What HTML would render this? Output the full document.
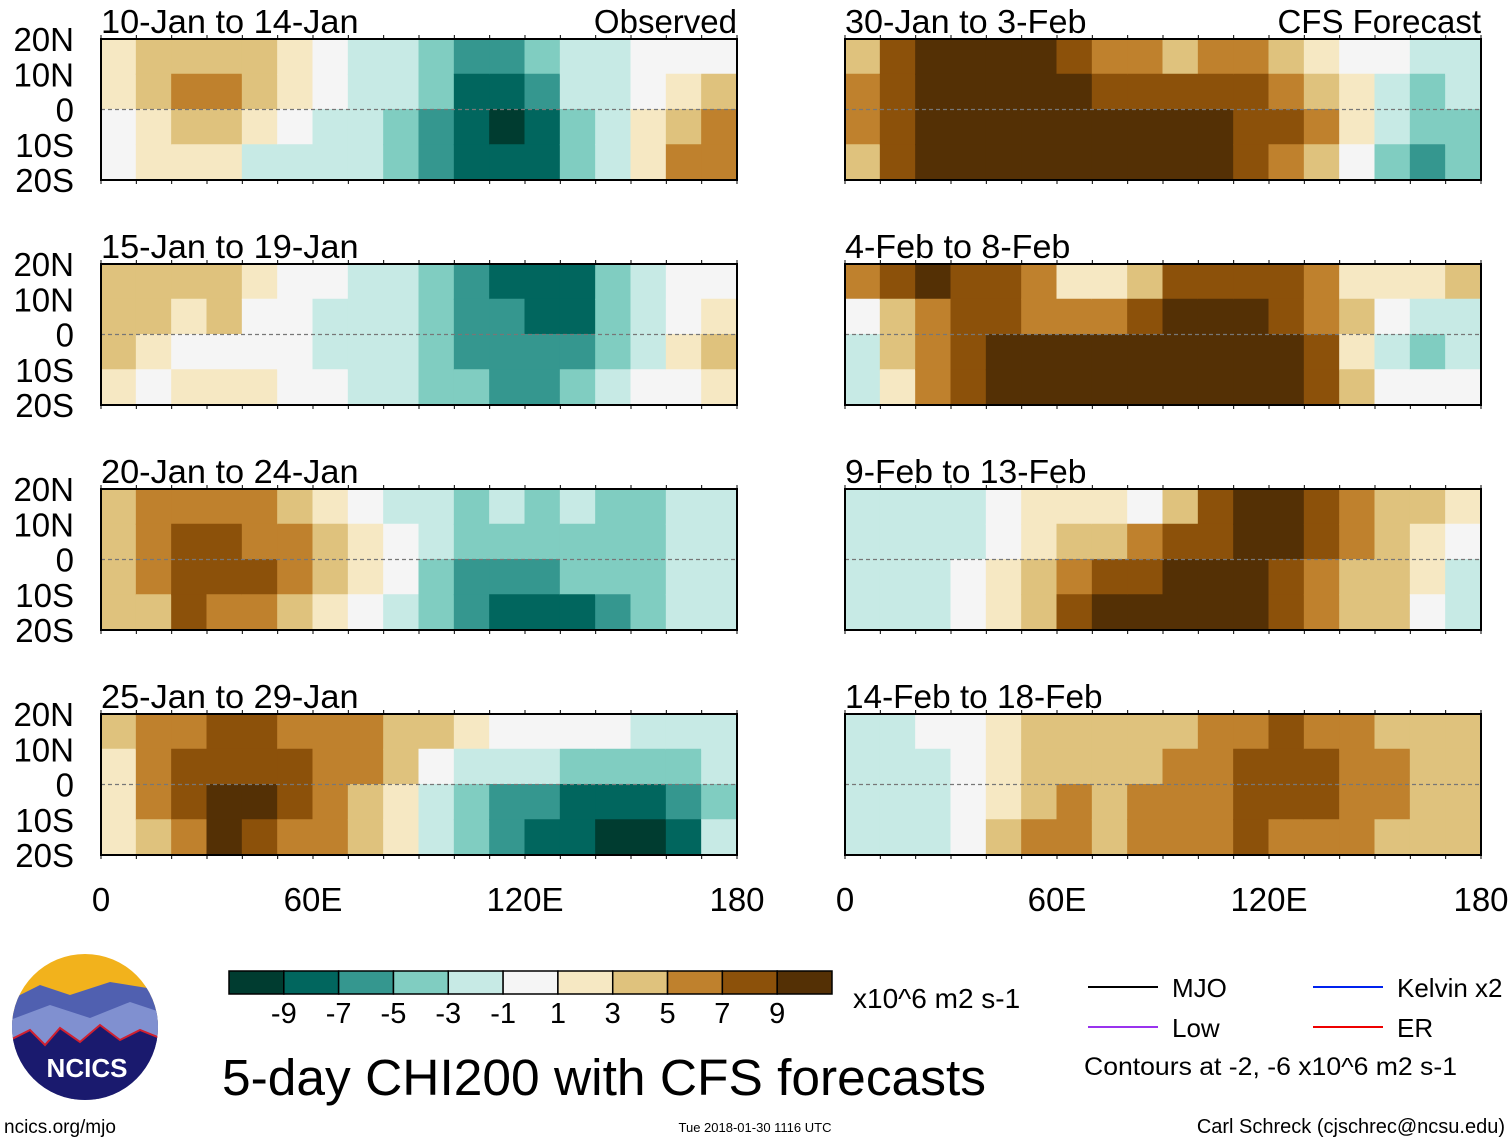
<!DOCTYPE html>
<html><head><meta charset="utf-8"><style>
body{margin:0;background:#fff}
svg{display:block;font-family:"Liberation Sans",sans-serif}
</style></head><body>
<svg id="chart" width="1510" height="1142" viewBox="0 0 1510 1142">
<g id="panels"></g>
<g id="legend"></g>
</svg>
<script>
const lonTicks=["0","60E","120E","180"];
const latTicks=["20N","10N","0","10S","20S"];
const panelTitles=["10-Jan to 14-Jan","15-Jan to 19-Jan","20-Jan to 24-Jan","25-Jan to 29-Jan","30-Jan to 3-Feb","4-Feb to 8-Feb","9-Feb to 13-Feb","14-Feb to 18-Feb"];
const levels=[-9,-7,-5,-3,-1,1,3,5,7,9];
const levelColors=["#003c30","#01665e","#35978f","#80cdc1","#c7eae5","#f5f5f5","#f6e8c3","#dfc27d","#bf812d","#8c510a","#543005"];
// each panel: 18 columns (10 deg lon) x 4 rows (20N-10N,10N-0,0-10S,10S-20S)
const p1=[[2,2,0,0],[3,3,2,2],[4,5,3,2],[4,5,3,2],[3,3,2,-2],[2,2,0,-3],[0,-1,-2,-2],[-2,-2,-2,-3],[-3,-3,-4,-4],[-4,-5,-6,-6],[-6,-8,-8,-8],[-7,-9,-10,-9],[-5,-6,-8,-8],[-3,-3,-4,-4],[-2,-2,-2,-2],[-1,0,2,2],[0,2,4,5],[0,3,6,6]];
const p2=[[3,3,4,2],[3,3,2,0],[4,2,0,1],[4,3,0,2],[2,0,0,2],[0,0,-1,0],[-1,-2,-2,-1],[-2,-2,-3,-2],[-3,-3,-3,-3],[-4,-5,-5,-5],[-6,-6,-6,-5],[-8,-7,-6,-6],[-9,-8,-7,-6],[-8,-8,-6,-5],[-5,-4,-4,-3],[-2,-2,-2,-1],[-1,0,2,0],[0,1,3,1]];
const p3=[[3,4,3,3],[5,6,5,4],[6,7,8,7],[6,7,8,6],[5,6,7,5],[3,5,5,3],[2,3,3,2],[0,1,1,0],[-2,-1,-1,-2],[-3,-3,-4,-4],[-5,-4,-6,-7],[-3,-4,-7,-8],[-4,-4,-6,-8],[-3,-4,-5,-8],[-4,-5,-5,-7],[-4,-4,-5,-4],[-3,-3,-3,-3],[-2,-2,-3,-3]];
const p4=[[3,2,2,1],[5,5,5,4],[6,7,8,6],[7,8,9,9],[7,8,9,8],[6,7,8,6],[5,6,6,5],[5,5,4,4],[4,3,1,2],[3,0,-2,-3],[1,-3,-5,-5],[0,-3,-6,-6],[-1,-3,-7,-9],[0,-4,-8,-9],[-1,-5,-9,-10],[-2,-5,-8,-10],[-3,-4,-6,-8],[-2,-3,-4,-3]];
const p5=[[4,5,5,4],[7,8,8,7],[9,10,10,9],[10,10,10,10],[10,10,10,10],[9,10,10,10],[8,9,10,10],[6,8,10,10],[5,8,10,10],[4,7,9,10],[5,7,9,9],[5,7,8,8],[3,6,7,6],[2,3,5,3],[0,1,2,-1],[-1,-3,-2,-4],[-2,-4,-5,-6],[-3,-3,-4,-5]];
const p6=[[6,0,-2,-3],[8,4,3,2],[9,6,5,5],[8,7,7,8],[7,8,9,10],[5,6,10,10],[1,5,10,10],[1,6,10,10],[4,8,10,10],[7,9,10,10],[8,9,10,10],[8,9,10,10],[7,8,9,10],[5,6,7,7],[2,3,2,3],[1,-1,-2,0],[2,-2,-4,-1],[3,-2,-3,0]];
const p7=[[-3,-3,-3,-2],[-3,-3,-2,-3],[-3,-2,-2,-2],[-2,-2,-1,-1],[0,0,1,1],[1,2,3,4],[2,3,6,8],[2,3,7,9],[0,5,8,10],[4,7,9,10],[8,8,9,10],[9,9,9,9],[9,9,8,8],[7,7,6,5],[5,5,4,4],[4,4,3,3],[3,2,1,0],[2,0,-2,-2]];
const p8=[[-3,-3,-3,-2],[-2,-3,-2,-2],[-1,-2,-2,-3],[0,0,-1,-1],[2,1,2,3],[3,3,4,5],[4,4,5,5],[3,3,4,4],[4,4,5,5],[4,5,5,5],[5,6,6,6],[6,7,7,7],[7,7,7,6],[6,7,7,6],[5,5,5,5],[4,5,5,4],[3,4,4,3],[3,4,4,3]];
const panelData=[p1,p2,p3,p4,p5,p6,p7,p8];

const NS="http://www.w3.org/2000/svg";
function mk(tag,attrs,parent){const e=document.createElementNS(NS,tag);for(const k in attrs)e.setAttribute(k,attrs[k]);parent.appendChild(e);return e;}
function colorFor(v){let i=0;while(i<levels.length&&v>=levels[i])i++;return levelColors[i];}
const colX=[101,845],rowY=[39,264,489,714],PW=636,PH=141;
function xScale(x0,lon){return x0+lon/180*PW;}
function yScale(y0,lat){return y0+(20-lat)/40*PH;}
const panels=document.getElementById('panels');
panelData.forEach((data,pi)=>{
  const x0=colX[pi<4?0:1],y0=rowY[pi%4];
  const g=mk('g',{},panels);
  
  
  data.forEach((col,ci)=>{col.forEach((v,ri)=>{
    const lat=20-ri*10;
    const x=xScale(x0,ci*10),y=yScale(y0,lat);
    const r=mk('rect',{x:x-0.5,y:y-0.5,width:xScale(x0,ci*10+10)-x+1,height:yScale(y0,lat-10)-y+1,fill:colorFor(v)},g);
    
    
  });});
  const eq=mk('line',{x1:x0,x2:x0+PW,y1:yScale(y0,0),y2:yScale(y0,0),stroke:'#777','stroke-dasharray':'4,3','stroke-width':1.2},g);
  
  
  const fr=mk('rect',{x:x0,y:y0,width:PW,height:PH,fill:'none',stroke:'#000','stroke-width':2},g);
  
  
  for(let l=0;l<=180;l+=10){const x=xScale(x0,l);mk('line',{x1:x,x2:x,y1:y0,y2:y0-4,stroke:'#000'},g);mk('line',{x1:x,x2:x,y1:y0+PH,y2:y0+PH+4,stroke:'#000'},g);}
  const t=mk('text',{x:x0,y:y0-6,'font-size':33,textLength:panelTitles[pi].length*16.1,lengthAdjust:'spacingAndGlyphs'},g);t.textContent=panelTitles[pi];
  
  
  if(pi%4===0){const s=mk('text',{x:x0+PW,y:y0-6,'font-size':33,'text-anchor':'end'},g);s.textContent=pi===0?'Observed':'CFS Forecast';
    
    }
  if(pi<4){latTicks.forEach((lb,i)=>{const tt=mk('text',{x:74,y:yScale(y0,20-i*10)+12,'font-size':33,'text-anchor':'end'},g);tt.textContent=lb;
    
    });}
  if(pi%4===3){lonTicks.forEach((lb,i)=>{const tt=mk('text',{x:xScale(x0,i*60),y:911,'font-size':33,'text-anchor':'middle'},g);tt.textContent=lb;
    
    });}
});
const lg=document.getElementById('legend');
const cbX=229,cbW=603/11;
levelColors.forEach((c,i)=>{const r=mk('rect',{x:cbX+i*cbW,y:971,width:cbW,height:23,fill:c,stroke:'#000','stroke-width':1.5},lg);
  
  });
levels.forEach((v,i)=>{const t=mk('text',{x:cbX+(i+1)*cbW,y:1023,'font-size':29,'text-anchor':'middle'},lg);t.textContent=String(v);
  
  });
function txt(s,x,y,fs,name,anchor){const t=mk('text',{x:x,y:y,'font-size':fs,'text-anchor':anchor||'start'},lg);t.textContent=s;return t;}
txt('x10^6 m2 s-1',853,1008,28,'colorbar-units');
const tt=txt('5-day CHI200 with CFS forecasts',222,1095,51,'chart-title');
tt.setAttribute('textLength','764');tt.setAttribute('lengthAdjust','spacingAndGlyphs');
const leg=[["MJO","#000",1088,987],["Low","#9933ee",1088,1027],["Kelvin x2","#0022ee",1313,987],["ER","#ee0000",1313,1027]];
leg.forEach(l=>{const ln=mk('line',{x1:l[2],x2:l[2]+70,y1:l[3],y2:l[3],stroke:l[1],'stroke-width':2},lg);
  
  
  txt(l[0],l[2]+84,l[3]+10,26,'legend-entry');});
const cn=txt('Contours at -2, -6 x10^6 m2 s-1',1084,1075,25,'contour-note');
cn.setAttribute('textLength','373');cn.setAttribute('lengthAdjust','spacingAndGlyphs');
txt('ncics.org/mjo',4,1133,19,'site-url');
txt('Tue 2018-01-30 1116 UTC',755,1132,13,'timestamp','middle');
txt('Carl Schreck (cjschrec@ncsu.edu)',1505,1133,20,'author-credit','end');
// logo
const logo=mk('g',{},lg);


const clip=mk('clipPath',{id:'lc'},logo);mk('circle',{cx:85,cy:1027,r:73},clip);
const lgi=mk('g',{'clip-path':'url(#lc)'},logo);
mk('rect',{x:10,y:950,width:150,height:155,fill:'#f2b21c'},lgi);
mk('path',{d:'M10 1000 L40 985 L70 995 L110 982 L160 990 L160 1105 L10 1105Z',fill:'#5060b0'},lgi);
mk('path',{d:'M10 1020 L50 1005 L90 1018 L130 1002 L160 1012 L160 1105 L10 1105Z',fill:'#8090d0'},lgi);
mk('path',{d:'M10 1040 L30 1030 L45 1045 L60 1028 L80 1042 L100 1025 L120 1040 L140 1030 L160 1038 L160 1105 L10 1105Z',fill:'#1a1a6e',stroke:'#d02030','stroke-width':2},lgi);
const lt=mk('text',{x:87,y:1077,'font-size':26,'font-weight':'bold',fill:'#fff','text-anchor':'middle'},logo);lt.textContent='NCICS';


</script>
</body></html>
